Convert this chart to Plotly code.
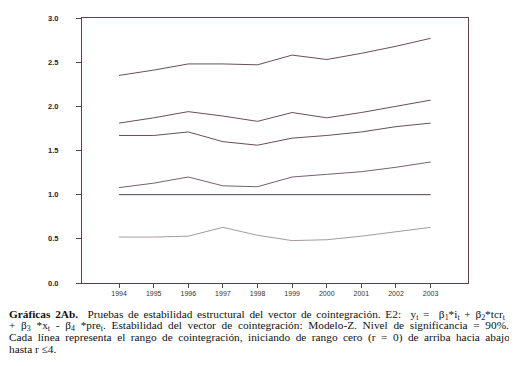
import plotly.graph_objects as go

years = [1994, 1995, 1996, 1997, 1998, 1999, 2000, 2001, 2002, 2003]
r0 = [2.35, 2.41, 2.48, 2.48, 2.47, 2.58, 2.53, 2.60, 2.68, 2.77]
r1 = [1.81, 1.87, 1.94, 1.89, 1.83, 1.93, 1.87, 1.93, 2.00, 2.07]
r2 = [1.67, 1.67, 1.71, 1.60, 1.56, 1.64, 1.67, 1.71, 1.77, 1.81]
r3 = [1.08, 1.13, 1.20, 1.10, 1.09, 1.20, 1.23, 1.26, 1.31, 1.37]
crit = [1.0] * 10
r4 = [0.52, 0.52, 0.53, 0.63, 0.54, 0.48, 0.49, 0.53, 0.58, 0.63]

y_ticks = [0.0, 0.5, 1.0, 1.5, 2.0, 2.5, 3.0]

caption_lines = [
    "<b>Gráficas 2Ab.</b>  Pruebas de estabilidad estructural del vector de cointegración. E2:  y<sub>t</sub> =  β<sub>1</sub>*i<sub>t</sub> + β<sub>2</sub>*tcr<sub>t</sub>",
    "+ β<sub>3</sub> *x<sub>t</sub> - β<sub>4</sub> *pre<sub>t</sub>. Estabilidad del vector de cointegración: Modelo-Z. Nivel de significancia = 90%.",
    "Cada línea representa el rango de cointegración, iniciando de rango cero (r = 0) de arriba hacia abajo",
    "hasta r ≤4.",
]
caption_wordspacing = [1.9, 2.9, 2.7, 0]

fig = go.Figure()
series = [
    (r0, "#6a4d5c", 1.0),
    (r1, "#6a4d5c", 1.0),
    (r2, "#6a4d5c", 1.0),
    (r3, "#7a6070", 1.0),
    (crit, "#5a3d4c", 1.0),
    (r4, "#a898a2", 1.0),
]
for vals, col, w in series:
    fig.add_trace(go.Scatter(x=years, y=vals, mode="lines",
                             line=dict(color=col, width=w), showlegend=False))

axis_col = "#5a4050"
fig.update_xaxes(range=[1992.93, 2004.08], tickvals=years, ticktext=[str(y) for y in years],
                 showline=True, linecolor=axis_col, linewidth=1, mirror=True,
                 ticks="outside", ticklen=4, tickcolor=axis_col, showgrid=False, zeroline=False,
                 tickfont=dict(family="Liberation Sans", size=7, color="#333333"))
fig.update_yaxes(range=[0, 3.0], tickvals=y_ticks, ticktext=[f"{v:.1f}" for v in y_ticks],
                 showline=True, linecolor=axis_col, linewidth=1, mirror=True,
                 ticks="outside", ticklen=5, tickcolor=axis_col, showgrid=False, zeroline=False,
                 ticklabelstandoff=16,
                 tickfont=dict(family="Liberation Sans", size=7.5, color="#2a2030", weight="bold"))

T, PH = 6, 269
ys = [307.5, 319, 330.5, 342]
for txt, yy, ws in zip(caption_lines, ys, caption_wordspacing):
    fig.add_annotation(text=f'<span style="word-spacing:{ws}px">{txt}</span>',
                       xref="paper", yref="paper", x=0, xanchor="left",
                       xshift=-75, y=1 - (yy - T) / PH, yanchor="middle", showarrow=False,
                       font=dict(family="Liberation Serif", size=11.3, color="#111111"))

fig.update_layout(width=517, height=366, margin=dict(l=74, r=57, t=T, b=366 - T - PH),
                  plot_bgcolor="white", paper_bgcolor="white")
fig.write_html("out.html")
